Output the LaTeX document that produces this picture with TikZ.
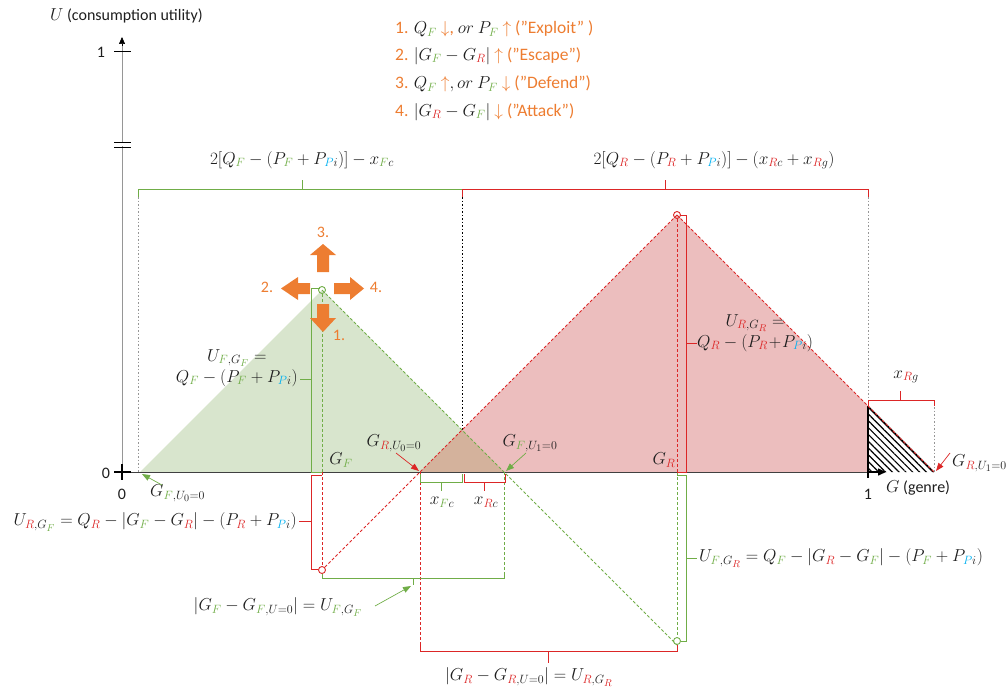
\documentclass[tikz,border=0pt]{standalone}
\usepackage{fontspec}
\setmainfont{Carlito}
\DeclareMathSizes{16}{16}{12.5}{10}
\DeclareMathSizes{17.5}{17.5}{13}{10.5}
\usetikzlibrary{arrows.meta,patterns.meta}
\definecolor{cgreen}{RGB}{112,173,71}
\definecolor{cred}{RGB}{220,38,38}
\definecolor{cblue}{RGB}{0,176,240}
\definecolor{corange}{RGB}{237,125,49}
\definecolor{fillG}{RGB}{216,229,205}
\definecolor{fillR}{RGB}{236,190,190}
\definecolor{fillO}{RGB}{212,178,156}
\definecolor{ctext}{RGB}{30,30,30}
\definecolor{cgray}{RGB}{150,150,150}
\newcommand\sF{\textcolor{cgreen}{F}}
\newcommand\sR{\textcolor{cred}{R}}
\newcommand\sP{\textcolor{cblue}{P}}
\newcommand\oar[1]{\textcolor{corange}{$#1$}}
\begin{document}
\begin{tikzpicture}[x=1pt,y=-1pt,font=\fontsize{16}{19}\selectfont,text=ctext,
  gbr/.style={cgreen,line width=1pt},
  rbr/.style={cred,line width=1pt},
  gdash/.style={cgreen,line width=0.8pt,dash pattern=on 3pt off 2pt},
  rdash/.style={cred,line width=0.8pt,dash pattern=on 3pt off 2pt},
  dotl/.style={line width=0.7pt,dash pattern=on 1.5pt off 2pt},
  gptr/.style={cgreen,line width=0.7pt,-{Triangle[length=8pt,width=6pt]}},
  rptr/.style={cred,line width=0.7pt,-{Triangle[length=8pt,width=6pt]}},
  lab/.style={inner sep=0pt},
  olab/.style={inner sep=0pt,text=corange},
  leg/.style={inner sep=0pt,anchor=west,text=corange,font=\fontsize{17.5}{20}\selectfont}]
\useasboundingbox (0,0) rectangle (1008,693);
% fills
\fill[fillG] (140,472) -- (322,290) -- (504,472) -- cycle;
\fill[fillR] (420,472) -- (677,215) -- (868,406) -- (868,472) -- cycle;
\fill[fillO] (420,472) -- (462,430) -- (504,472) -- cycle;
\fill[pattern={Lines[angle=-45,distance=4.8pt,line width=1.2pt]}] (868,406) -- (934,472) -- (868,472) -- cycle;
\draw[line width=0.8pt] (934,472) -- (868,406);
% dotted guides
\draw[dotl,cgray] (138,197) -- (138,472);
\draw[dotl,black] (462,197) -- (462,430);
\draw[dotl,cgray] (868,197) -- (868,406);
\draw[dotl,cgray] (934,400) -- (934,472);
% axes
\draw[cgray,line width=0.8pt] (122,472) -- (122,44);
\draw[-{Triangle[length=7pt,width=6pt]},black,line width=0.6pt] (122,46) -- (122,37);
\draw[line width=1pt] (114,52) -- (131,52);
\draw[line width=1pt] (114,142) -- (131,142) (114,147) -- (131,147);
\draw[fill=white,draw=none] (120,143) rectangle (124,146);
\draw[line width=0.9pt,black!75] (122,472) -- (868,472);
\draw[line width=1.6pt] (114,472) -- (131,472) (122,464) -- (122,480);
\draw[line width=1.6pt] (868,406) -- (868,478);
\draw[line width=1.4pt,-{Triangle[length=8pt,width=7pt]}] (868,472) -- (886,472);
\node[lab] (u1) at (101,52) {1};
\node[lab] (u0) at (106,473) {0};
\node[lab] (g0) at (122,494) {0};
\node[lab] (g1) at (868,494) {1};
\node[lab,anchor=west] (gax) at (886,488) {$G$ (genre)};
\node[lab,anchor=west] (uax) at (50,16) {$U$ (consumption utility)};
% dashed lines
\draw[gdash] (322,290) -- (677,645);
\draw[gdash] (322,294) -- (322,472);
\draw[gdash] (677,472) -- (677,637);
\draw[gdash] (504,472) -- (504,578);
\draw[rdash] (677,215) -- (325,567);
\draw[rdash] (677,215) -- (934,472);
\draw[rdash] (677,219) -- (677,472);
\draw[rdash] (322,472) -- (322,566);
\draw[rdash] (420,472) -- (420,651);
% circles
\draw[cgreen,line width=0.9pt] (322,290) circle (3.5);
\draw[cred,line width=0.9pt] (677,215) circle (3.5);
\draw[cred,line width=0.9pt] (322,570) circle (3.5);
\draw[cgreen,line width=0.9pt] (677,641) circle (3.5);
% top brackets
\draw[gbr] (138,197) -- (138,189) -- (462,189);
\draw[gbr] (302,189) -- (302,180);
\draw[rbr] (462,197) -- (462,189) -- (868,189) -- (868,197);
\draw[rbr] (665,189) -- (665,180);
\node[lab] (topF) at (302,160) {$2[Q_{\sF} - (P_{\sF} + P_{\sP i})] - x_{\sF c}$};
\node[lab] (topR) at (714,160) {$2[Q_{\sR} - (P_{\sR} + P_{\sP i})] - (x_{\sR c} + x_{\sR g})$};
% U_F,G_F bracket
\draw[gbr] (320,288) -- (311,288) -- (311,472) -- (322,472);
\draw[gbr] (311,379) -- (300,379);
\node[lab,align=center,anchor=east] (uFGF) at (298,368) {$U_{\sF,G_{\sF}} =$\\[2pt]$Q_{\sF} - (P_{\sF} + P_{\sP i})$};
% U_R,G_R bracket
\draw[rbr] (680,215) -- (686,215) -- (686,472) -- (677,472);
\draw[rbr] (686,343) -- (697,343);
\node[lab,align=center,anchor=west] (uRGR) at (697,333) {$U_{\sR,G_{\sR}} =$\\[2pt]$Q_{\sR} - (P_{\sR}\!+\!P_{\sP i})$};
% U_R,G_F bracket
\draw[rbr] (322,475) -- (311,475) -- (311,569) -- (318,569);
\draw[rbr] (311,521) -- (299,521);
\node[lab,anchor=east] (uRGF) at (297,522) {$U_{\sR,G_{\sF}} = Q_{\sR} - |G_{\sF} - G_{\sR}| - (P_{\sR} + P_{\sP i})$};
% U_F,G_R bracket
\draw[gbr] (677,475) -- (686,475) -- (686,641) -- (681,641);
\draw[gbr] (686,558) -- (697,558);
\node[lab,anchor=west] (uFGR) at (699,558) {$U_{\sF,G_{\sR}} = Q_{\sF} - |G_{\sR} - G_{\sF}| - (P_{\sF} + P_{\sP i})$};
% |G_F - G_F,U=0| bracket
\draw[gbr] (322,574) -- (322,578) -- (504,578) -- (504,572);
\draw[gbr] (413,578) -- (413,585);
\node[lab] (dF) at (278,607) {$\bigl|G_{\sF} - G_{\sF,U=0}\bigr| = U_{\sF,G_{\sF}}$};
\draw[gptr] (375,606) -- (411,586);
% |G_R - G_R,U=0| bracket
\draw[rbr] (420,645) -- (420,651) -- (677,651) -- (677,645);
\draw[rbr] (548,651) -- (548,663);
\node[lab] (dR) at (529,677) {$\bigl|G_{\sR} - G_{\sR,U=0}\bigr| = U_{\sR,G_{\sR}}$};
% x_Fc, x_Rc brackets
\draw[gbr] (420,474) -- (420,482) -- (462,482) -- (462,474);
\draw[gbr] (441,482) -- (441,491);
\draw[rbr] (464,474) -- (464,482) -- (505,482) -- (505,474);
\draw[rbr] (484,482) -- (484,491);
\node[lab] (xFc) at (442,502) {$x_{\sF c}$};
\node[lab] (xRc) at (486,502) {$x_{\sR c}$};
% x_Rg bracket
\draw[rbr] (868,406) -- (868,400) -- (934,400) -- (934,406);
\draw[rbr] (900,400) -- (900,391);
\node[lab] (xRg) at (906,377) {$x_{\sR g}$};
% point labels
\node[lab] (GRU0) at (394,443) {$G_{\sR,U_0=0}$};
\draw[rptr] (396,453) -- (419,471);
\node[lab] (GFU1) at (530,443) {$G_{\sF,U_1=0}$};
\draw[gptr] (526,453) -- (506,471);
\node[lab,anchor=west] (GFU0) at (150,493) {$G_{\sF,U_0=0}$};
\draw[gptr] (162,485) -- (142,474);
\node[lab,anchor=west] (GRU1) at (952,463) {$G_{\sR,U_1=0}$};
\draw[rptr] (950,453) -- (936,471);
\node[lab] (GF) at (341,460) {$G_{\sF}$};
\node[lab] (GR) at (664,460) {$G_{\sR}$};
% orange block arrows
\fill[corange] (317,272) -- (317,255) -- (310,255) -- (323,244) -- (336,255) -- (329,255) -- (329,272) -- cycle;
\fill[corange] (310,283) -- (298,283) -- (298,277) -- (281,288.5) -- (298,300) -- (298,294) -- (310,294) -- cycle;
\fill[corange] (334,283) -- (350,283) -- (350,277) -- (364,288.5) -- (350,300) -- (350,294) -- (334,294) -- cycle;
\fill[corange] (317,304) -- (317,318) -- (310,318) -- (323,332) -- (336,318) -- (329,318) -- (329,304) -- cycle;
\node[olab] (a3) at (323,232) {3.};
\node[olab] (a2) at (267,287) {2.};
\node[olab] (a4) at (376,287) {4.};
\node[olab] (a1) at (339,335) {1.};
% legend
\node[leg] (l1) at (395,29) {1. \textcolor{ctext}{$Q_{\sF}$} \oar{\downarrow}, \textcolor{ctext}{$or$ $P_{\sF}$} \oar{\uparrow} (”Exploit” )};
\node[leg] (l2) at (395,56) {2. \textcolor{ctext}{$|G_{\sF} - G_{\sR}|$} \oar{\uparrow} (”Escape”)};
\node[leg] (l3) at (395,84) {3. \textcolor{ctext}{$Q_{\sF}$} \oar{\uparrow}\textcolor{ctext}{$, or$ $P_{\sF}$} \oar{\downarrow} (”Defend”)};
\node[leg] (l4) at (395,112) {4. \textcolor{ctext}{$|G_{\sR} - G_{\sF}|$} \oar{\downarrow} (”Attack”)};
\end{tikzpicture}
\end{document}
